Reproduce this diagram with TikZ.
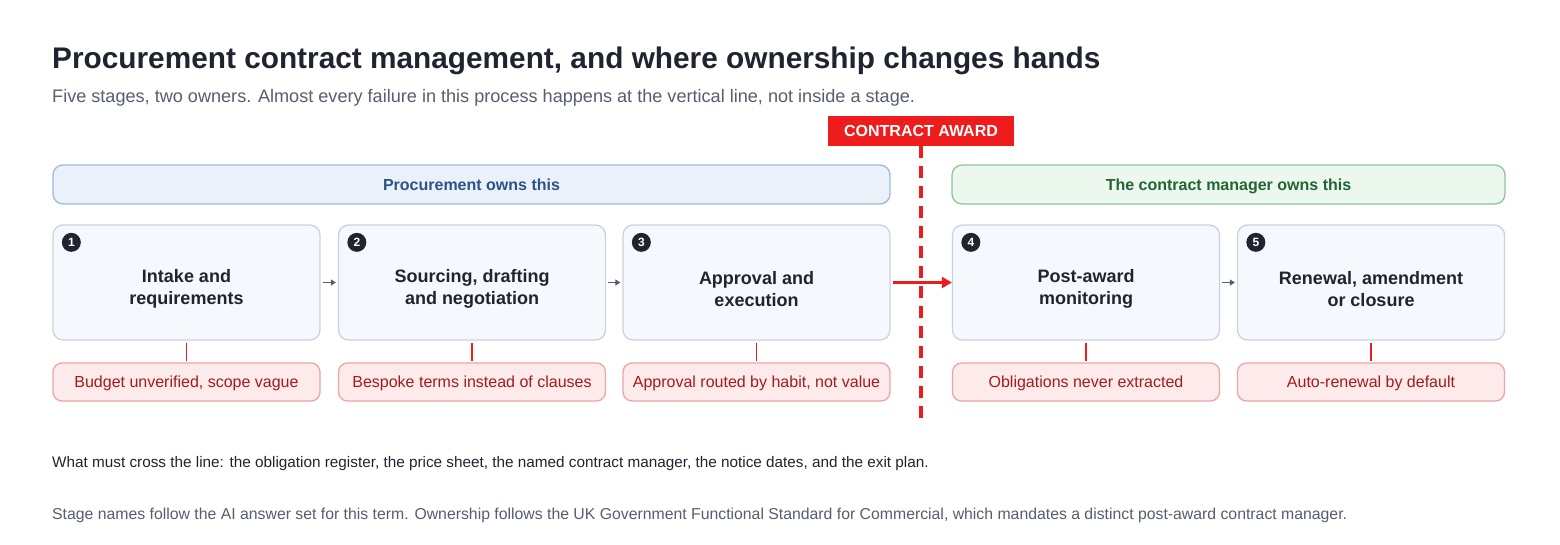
\documentclass[tikz,border=0pt]{standalone}
\usepackage{fontspec}
\setmainfont{Liberation Sans}
\usetikzlibrary{arrows.meta}
\definecolor{ink}{HTML}{1F2430}
\definecolor{sub}{HTML}{555E6E}
\definecolor{awr}{HTML}{EE1C1C}
\definecolor{bluefill}{HTML}{EAF1F9}
\definecolor{blueline}{HTML}{9DBAD8}
\definecolor{bluetext}{HTML}{2D5286}
\definecolor{greenfill}{HTML}{ECF7EE}
\definecolor{greenline}{HTML}{8FC49E}
\definecolor{greentext}{HTML}{226434}
\definecolor{stagefill}{HTML}{F5F8FC}
\definecolor{stageline}{HTML}{C9D3E0}
\definecolor{failfill}{HTML}{FDEBEB}
\definecolor{failline}{HTML}{EFA3A3}
\definecolor{failtext}{HTML}{A31B1B}
\begin{document}
\begin{tikzpicture}[x=1pt,y=-1pt,
  band/.style={draw, line width=1.3pt, rounded corners=10pt, minimum height=39pt, text depth=0pt, font=\fontsize{16}{18}\selectfont\bfseries},
  stage/.style={draw=stageline, fill=stagefill, line width=1.3pt, rounded corners=10pt, minimum width=267pt, minimum height=115pt},
  stagetext/.style={align=center, text=ink, font=\fontsize{18}{22}\selectfont\bfseries},
  fail/.style={draw=failline, fill=failfill, line width=1.3pt, rounded corners=9pt, minimum width=267pt, minimum height=38pt, text depth=0pt, text=failtext, font=\fontsize{16}{18}\selectfont},
  badge/.style={circle, fill=ink, text=white, inner sep=0pt, minimum size=19pt, font=\fontsize{12}{12}\selectfont\bfseries},
  flowarrow/.style={-{Triangle[length=5pt,width=6pt]}, draw=sub, line width=1.3pt},
  stub/.style={draw=awr, line width=1.8pt}]
\useasboundingbox (0,0) rectangle (1560,544);
\node[anchor=base west, inner sep=0pt, text=ink, font=\fontsize{29.8}{32}\selectfont\bfseries] (title) at (52,68) {Procurement contract management, and where ownership changes hands};
\node[anchor=base west, inner sep=0pt, text=sub, font=\fontsize{18.1}{20}\selectfont] (subtitle) at (52,102) {Five stages, two owners. Almost every failure in this process happens at the vertical line, not inside a stage.};
\node[fill=awr, text=white, minimum width=186pt, minimum height=30pt, text depth=0pt, font=\fontsize{16}{18}\selectfont\bfseries] (award) at (921,131) {CONTRACT AWARD};
\coordinate (lineend) at (921,422);
\draw[awr, line width=3.5pt, dash pattern=on 12pt off 8pt] (award.south) -- (lineend);
\node[band, draw=blueline, fill=bluefill, text=bluetext, minimum width=837pt] (proc) at (471.5,184.5) {Procurement owns this};
\node[band, draw=greenline, fill=greenfill, text=greentext, minimum width=553pt] (cm) at (1228.5,184.5) {The contract manager owns this};
\foreach \n/\x/\t/\f in {1/186.5/{Intake and\\requirements}/{Budget unverified, scope vague},
  2/472/{Sourcing, drafting\\and negotiation}/{Bespoke terms instead of clauses},
  3/756.5/{Approval and\\execution}/{Approval routed by habit, not value},
  4/1086/{Post-award\\monitoring}/{Obligations never extracted},
  5/1371/{Renewal, amendment\\or closure}/{Auto-renewal by default}}{
  \node[stage] (s\n) at (\x,282.5) {};
  \node[stagetext] (t\n) at (\x,289) {\t};
  \node[badge] (b\n) at ([xshift=19pt,yshift=-18pt]s\n.north west) {\n};
  \node[fail] (f\n) at (\x,382) {\f};
  \draw[stub] ([yshift=-2pt]s\n.south) -- ([yshift=-20pt]s\n.south);
}
\draw[flowarrow] ([xshift=2pt]s1.east) -- ([xshift=-2pt]s2.west);
\draw[flowarrow] ([xshift=2pt]s2.east) -- ([xshift=-2pt]s3.west);
\draw[flowarrow] ([xshift=2pt]s4.east) -- ([xshift=-2pt]s5.west);
\draw[awr, line width=2.2pt, -{Triangle[length=10pt,width=11pt]}] ([xshift=2pt]s3.east) -- (s4.west);
\node[anchor=base west, inner sep=0pt, text=ink, font=\fontsize{15.3}{18}\selectfont] (cross) at (52,467) {What must cross the line: the obligation register, the price sheet, the named contract manager, the notice dates, and the exit plan.};
\node[anchor=base west, inner sep=0pt, text=sub, font=\fontsize{15.8}{18}\selectfont] (note) at (52,519) {Stage names follow the AI answer set for this term. Ownership follows the UK Government Functional Standard for Commercial, which mandates a distinct post-award contract manager.};
\end{tikzpicture}
\end{document}
